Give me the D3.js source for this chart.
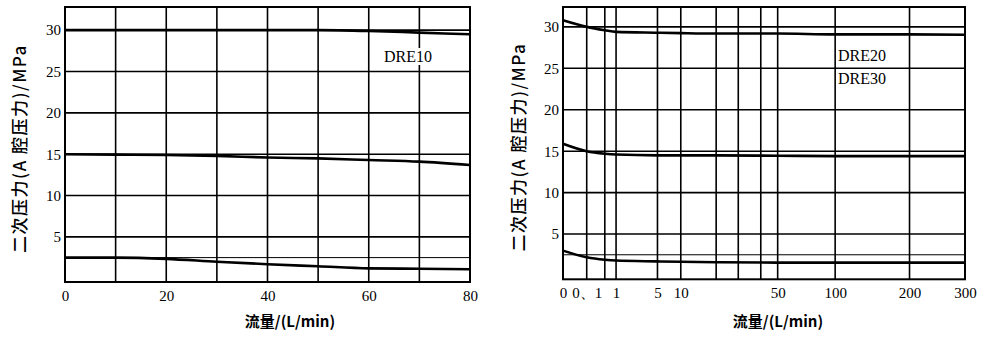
<!DOCTYPE html>
<html><head><meta charset="utf-8">
<script src="https://cdn.jsdelivr.net/npm/d3@7"></script>
<style>
html,body{margin:0;padding:0;background:#fff;}
svg{display:block;}
.tick text{font-family:"Liberation Serif","DejaVu Serif",serif;}
</style>
</head><body>
<svg id="c" width="985" height="341"></svg>
<script>
// ---- data ----
const yTicks = [5, 10, 15, 20, 25, 30];
const yRefLine = [2.5];
const leftXTicks = [0, 10, 20, 30, 40, 50, 60, 70, 80];
const leftXLabels = [0, 20, 40, 60, 80];
const leftFlow = [0, 10, 20, 30, 40, 50, 60, 70, 80];
const dre10High = [30, 30, 30, 30, 30, 30, 29.9, 29.7, 29.5];
const dre10Mid = [15, 14.95, 14.9, 14.8, 14.6, 14.5, 14.3, 14.1, 13.7];
const dre10Low = [2.5, 2.5, 2.35, 2.0, 1.7, 1.45, 1.2, 1.15, 1.1];

const rightXBreaks = [0, 0.1, 0.5, 1, 5, 10, 20, 30, 40, 50, 100, 200, 300];
const rightXLabels = [0, 0.1, 1, 5, 10, 50, 100, 200, 300];
const rightXLabelText = {0:"0", 0.1:"0、1", 1:"1", 5:"5", 10:"10", 50:"50", 100:"100", 200:"200", 300:"300"};
const rightFlow = [0, 0.1, 0.5, 1, 5, 10, 20, 50, 100, 200, 300];
const dre20High = [30.8, 30.0, 29.6, 29.4, 29.3, 29.25, 29.2, 29.2, 29.1, 29.1, 29.05];
const dre20Mid = [15.9, 15.0, 14.7, 14.6, 14.5, 14.5, 14.5, 14.45, 14.4, 14.4, 14.4];
const dre20Low = [3.0, 2.2, 1.9, 1.8, 1.7, 1.65, 1.6, 1.55, 1.55, 1.55, 1.55];

const yTitle = "二次压力(A 腔压力)/MPa";
const xTitle = "流量/(L/min)";

// ---- drawing ----
const svg = d3.select("#c");
const serif = '"Liberation Serif","DejaVu Serif",serif';
const cjk = '"Noto Sans CJK SC","Noto Sans CJK JP",sans-serif';

function panel(o) {
  const g = svg.append("g");
  const x = o.x, y = o.y;
  const xr = x.range(), yr = y.range();
  const x0 = xr[0], x1 = xr[xr.length - 1], y0 = yr[0], y1 = yr[yr.length - 1];
  // gridlines
  g.selectAll(".hg").data(yTicks.concat(yRefLine)).join("line")
    .attr("x1", x0).attr("x2", x1)
    .attr("y1", d => y(d)).attr("y2", d => y(d))
    .attr("stroke", "#000").attr("stroke-width", d => d === 2.5 ? 1 : 1.6);
  g.selectAll(".vg").data(o.xGrid).join("line")
    .attr("x1", d => x(d)).attr("x2", d => x(d))
    .attr("y1", y0).attr("y2", y1)
    .attr("stroke", "#000").attr("stroke-width", 1.6);
  // frame
  g.append("rect").attr("x", x0).attr("y", y1)
    .attr("width", x1 - x0).attr("height", y0 - y1)
    .attr("fill", "none").attr("stroke", "#000").attr("stroke-width", 2);
  // label
  o.labels.forEach(l => {
    const t = g.append("text").attr("x", l.x).attr("y", l.y)
      .attr("font-family", serif).attr("font-size", 16).text(l.t);
    const bb = t.node().getBBox();
    g.insert("rect", () => t.node())
      .attr("x", bb.x - 2).attr("y", bb.y).attr("width", bb.width + 4).attr("height", bb.height)
      .attr("fill", "#fff");
  });
  // curves
  const line = d3.line().x((d, i) => x(o.flow[i])).y(d => y(d)).curve(d3.curveMonotoneX);
  o.series.forEach(s => {
    g.append("path").attr("d", line(s)).attr("fill", "none")
      .attr("stroke", "#000").attr("stroke-width", 2.6);
  });
  // y axis
  const ya = g.append("g").attr("transform", `translate(${x0},0)`)
    .call(d3.axisLeft(y).tickValues(yTicks).tickSize(0).tickPadding(4));
  ya.select(".domain").remove();
  ya.selectAll("text").attr("font-size", 15).attr("font-family", serif);
  // x axis
  const xa = g.append("g").attr("transform", `translate(0,${y0})`)
    .call(d3.axisBottom(x).tickValues(o.xLabels).tickSize(0).tickPadding(8)
      .tickFormat(o.fmt));
  xa.select(".domain").remove();
  xa.selectAll("text").attr("font-size", 15).attr("font-family", serif);
  // titles
  g.append("text").attr("transform", `translate(${o.yTitleX},${(y0 + y1) / 2 + 4}) rotate(-90)`)
    .attr("text-anchor", "middle").attr("font-family", cjk).attr("font-size", 17)
    .attr("letter-spacing", 1.5)
    .attr("font-weight", 500).text(yTitle);
  g.append("text").attr("x", o.xTitleX).attr("y", 327)
    .attr("text-anchor", "middle").attr("font-family", cjk).attr("font-size", 15)
    .attr("font-weight", 700).text(xTitle);
}

// left panel
const xL = d3.scaleLinear().domain([0, 80]).range([65, 470]);
const yL = d3.scaleLinear().domain([-0.45, 32.8]).range([282, 7]);
panel({
  x: xL, y: yL, xGrid: leftXTicks, xLabels: leftXLabels, fmt: d => d,
  flow: leftFlow, series: [dre10High, dre10Mid, dre10Low],
  labels: [{t: "DRE10", x: 384, y: 62}],
  yTitleX: 26, xTitleX: 290
});

// right panel (hand-drawn piecewise flow scale)
const rx0 = 563, rx1 = 965;
const rightFrac = [0, 0.059, 0.104, 0.132, 0.235, 0.293, 0.381, 0.436, 0.492, 0.534, 0.677, 0.862, 1];
const xR = d3.scaleLinear().domain(rightXBreaks).range(rightFrac.map(f => rx0 + f * (rx1 - rx0)));
const yR = d3.scaleLinear().domain([-0.46, 32.4]).range([279.3, 7]);
panel({
  x: xR, y: yR, xGrid: rightXBreaks, xLabels: rightXLabels, fmt: d => rightXLabelText[d],
  flow: rightFlow, series: [dre20High, dre20Mid, dre20Low],
  labels: [{t: "DRE20", x: 838, y: 61}, {t: "DRE30", x: 838, y: 84}],
  yTitleX: 525, xTitleX: 778
});
</script>
</body></html>
